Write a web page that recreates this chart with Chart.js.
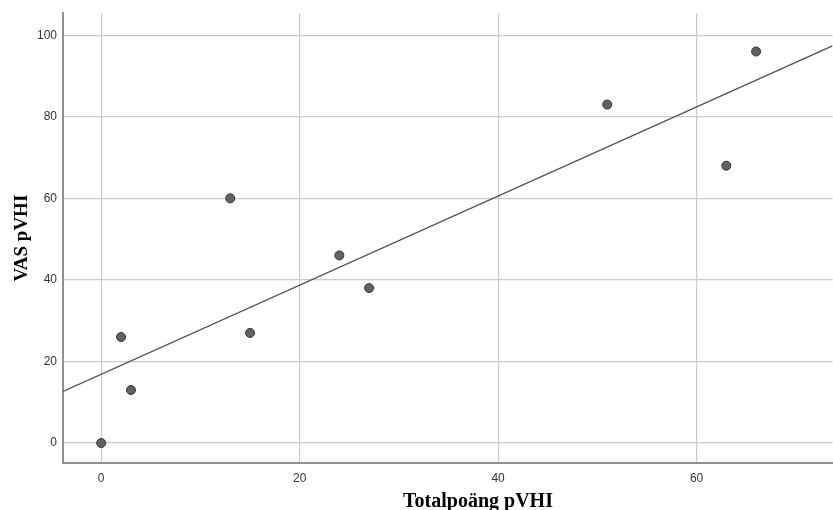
<!DOCTYPE html>
<html lang="sv">
<head>
    <meta charset="UTF-8">
    <title>VAS pVHI vs Totalpoäng pVHI</title>
    <script src="https://cdn.jsdelivr.net/npm/chart.js"></script>
    <style>
        body {
            margin: 0;
            padding: 0;
            background-color: #fff;
            overflow: hidden;
        }

        .chart-container {
            position: relative;
            width: 833px;
            height: 510px;
            overflow: hidden;
        }
    </style>
</head>
<body>
    <div class="chart-container">
        <!-- a bit wider than the window so the plot runs out past the right edge -->
        <canvas id="scatterChart" width="838" height="510"></canvas>
    </div>

    <script>
        // Data
        const totalScore = [0, 2, 3, 13, 15, 24, 27, 51, 63, 66];
        const vasScore = [0, 26, 13, 60, 27, 46, 38, 83, 68, 96];
        const xTicks = [0, 20, 40, 60];
        const yTicks = [0, 20, 40, 60, 80, 100];

        const xMin = -3.85, xMax = 73.7;
        const yMin = -4.9, yMax = 105.4;

        // Least-squares fit line through the points
        function fitLine(xs, ys) {
            const n = xs.length;
            const mx = xs.reduce((a, b) => a + b, 0) / n;
            const my = ys.reduce((a, b) => a + b, 0) / n;
            let sxy = 0, sxx = 0;
            for (let i = 0; i < n; i++) {
                sxy += (xs[i] - mx) * (ys[i] - my);
                sxx += (xs[i] - mx) * (xs[i] - mx);
            }
            const slope = sxy / sxx;
            return { slope: slope, intercept: my - slope * mx };
        }

        const fit = fitLine(totalScore, vasScore);
        const points = totalScore.map((x, i) => ({ x: x, y: vasScore[i] }));
        const fitPoints = [xMin, xMax].map(x => ({ x: x, y: fit.intercept + fit.slope * x }));

        // Axis titles drawn on the canvas
        const axisTitles = {
            id: 'axisTitles',
            afterDraw(chart) {
                const ctx = chart.ctx;
                const area = chart.chartArea;
                ctx.save();
                ctx.fillStyle = '#000';
                ctx.textAlign = 'center';
                ctx.textBaseline = 'alphabetic';
                ctx.font = 'bold 20px "Liberation Serif", "Times New Roman", serif';
                ctx.fillText('Totalpoäng pVHI', 478, 507);
                ctx.translate(27, (area.top + area.bottom) / 2);
                ctx.rotate(-Math.PI / 2);
                ctx.font = 'bold 19px "Liberation Serif", "Times New Roman", serif';
                ctx.fillText('VAS pVHI', 0, 0);
                ctx.restore();
            }
        };

        const ctx = document.getElementById('scatterChart').getContext('2d');
        new Chart(ctx, {
            type: 'scatter',
            data: {
                datasets: [{
                    data: points,
                    backgroundColor: '#626262',
                    borderColor: '#333',
                    borderWidth: 1,
                    pointRadius: 4.5,
                    pointHoverRadius: 4.5
                }, {
                    type: 'line',
                    data: fitPoints,
                    borderColor: '#505050',
                    borderWidth: 1.3,
                    pointRadius: 0,
                    fill: false
                }]
            },
            options: {
                responsive: false,
                animation: false,
                layout: {
                    padding: { top: 10, right: 0, left: 0, bottom: 0 }
                },
                plugins: {
                    legend: { display: false },
                    tooltip: { enabled: false }
                },
                scales: {
                    x: {
                        type: 'linear',
                        min: xMin,
                        max: xMax,
                        afterFit: scale => { scale.height = 47; },
                        afterBuildTicks: scale => {
                            scale.ticks = xTicks.map(v => ({ value: v }));
                        },
                        grid: { color: '#cbcbcb', lineWidth: 1.2, drawTicks: false },
                        border: { color: '#909090', width: 2 },
                        ticks: {
                            padding: 8,
                            color: '#333',
                            font: { family: 'Arial, "Liberation Sans", sans-serif', size: 12 }
                        }
                    },
                    y: {
                        min: yMin,
                        max: yMax,
                        afterFit: scale => { scale.width = 63; },
                        afterBuildTicks: scale => {
                            scale.ticks = yTicks.map(v => ({ value: v }));
                        },
                        grid: { color: '#cbcbcb', lineWidth: 1.2, drawTicks: false },
                        border: { color: '#909090', width: 2 },
                        ticks: {
                            padding: 6,
                            color: '#333',
                            font: { family: 'Arial, "Liberation Sans", sans-serif', size: 12 }
                        }
                    }
                }
            },
            plugins: [axisTitles]
        });
    </script>
</body>
</html>
